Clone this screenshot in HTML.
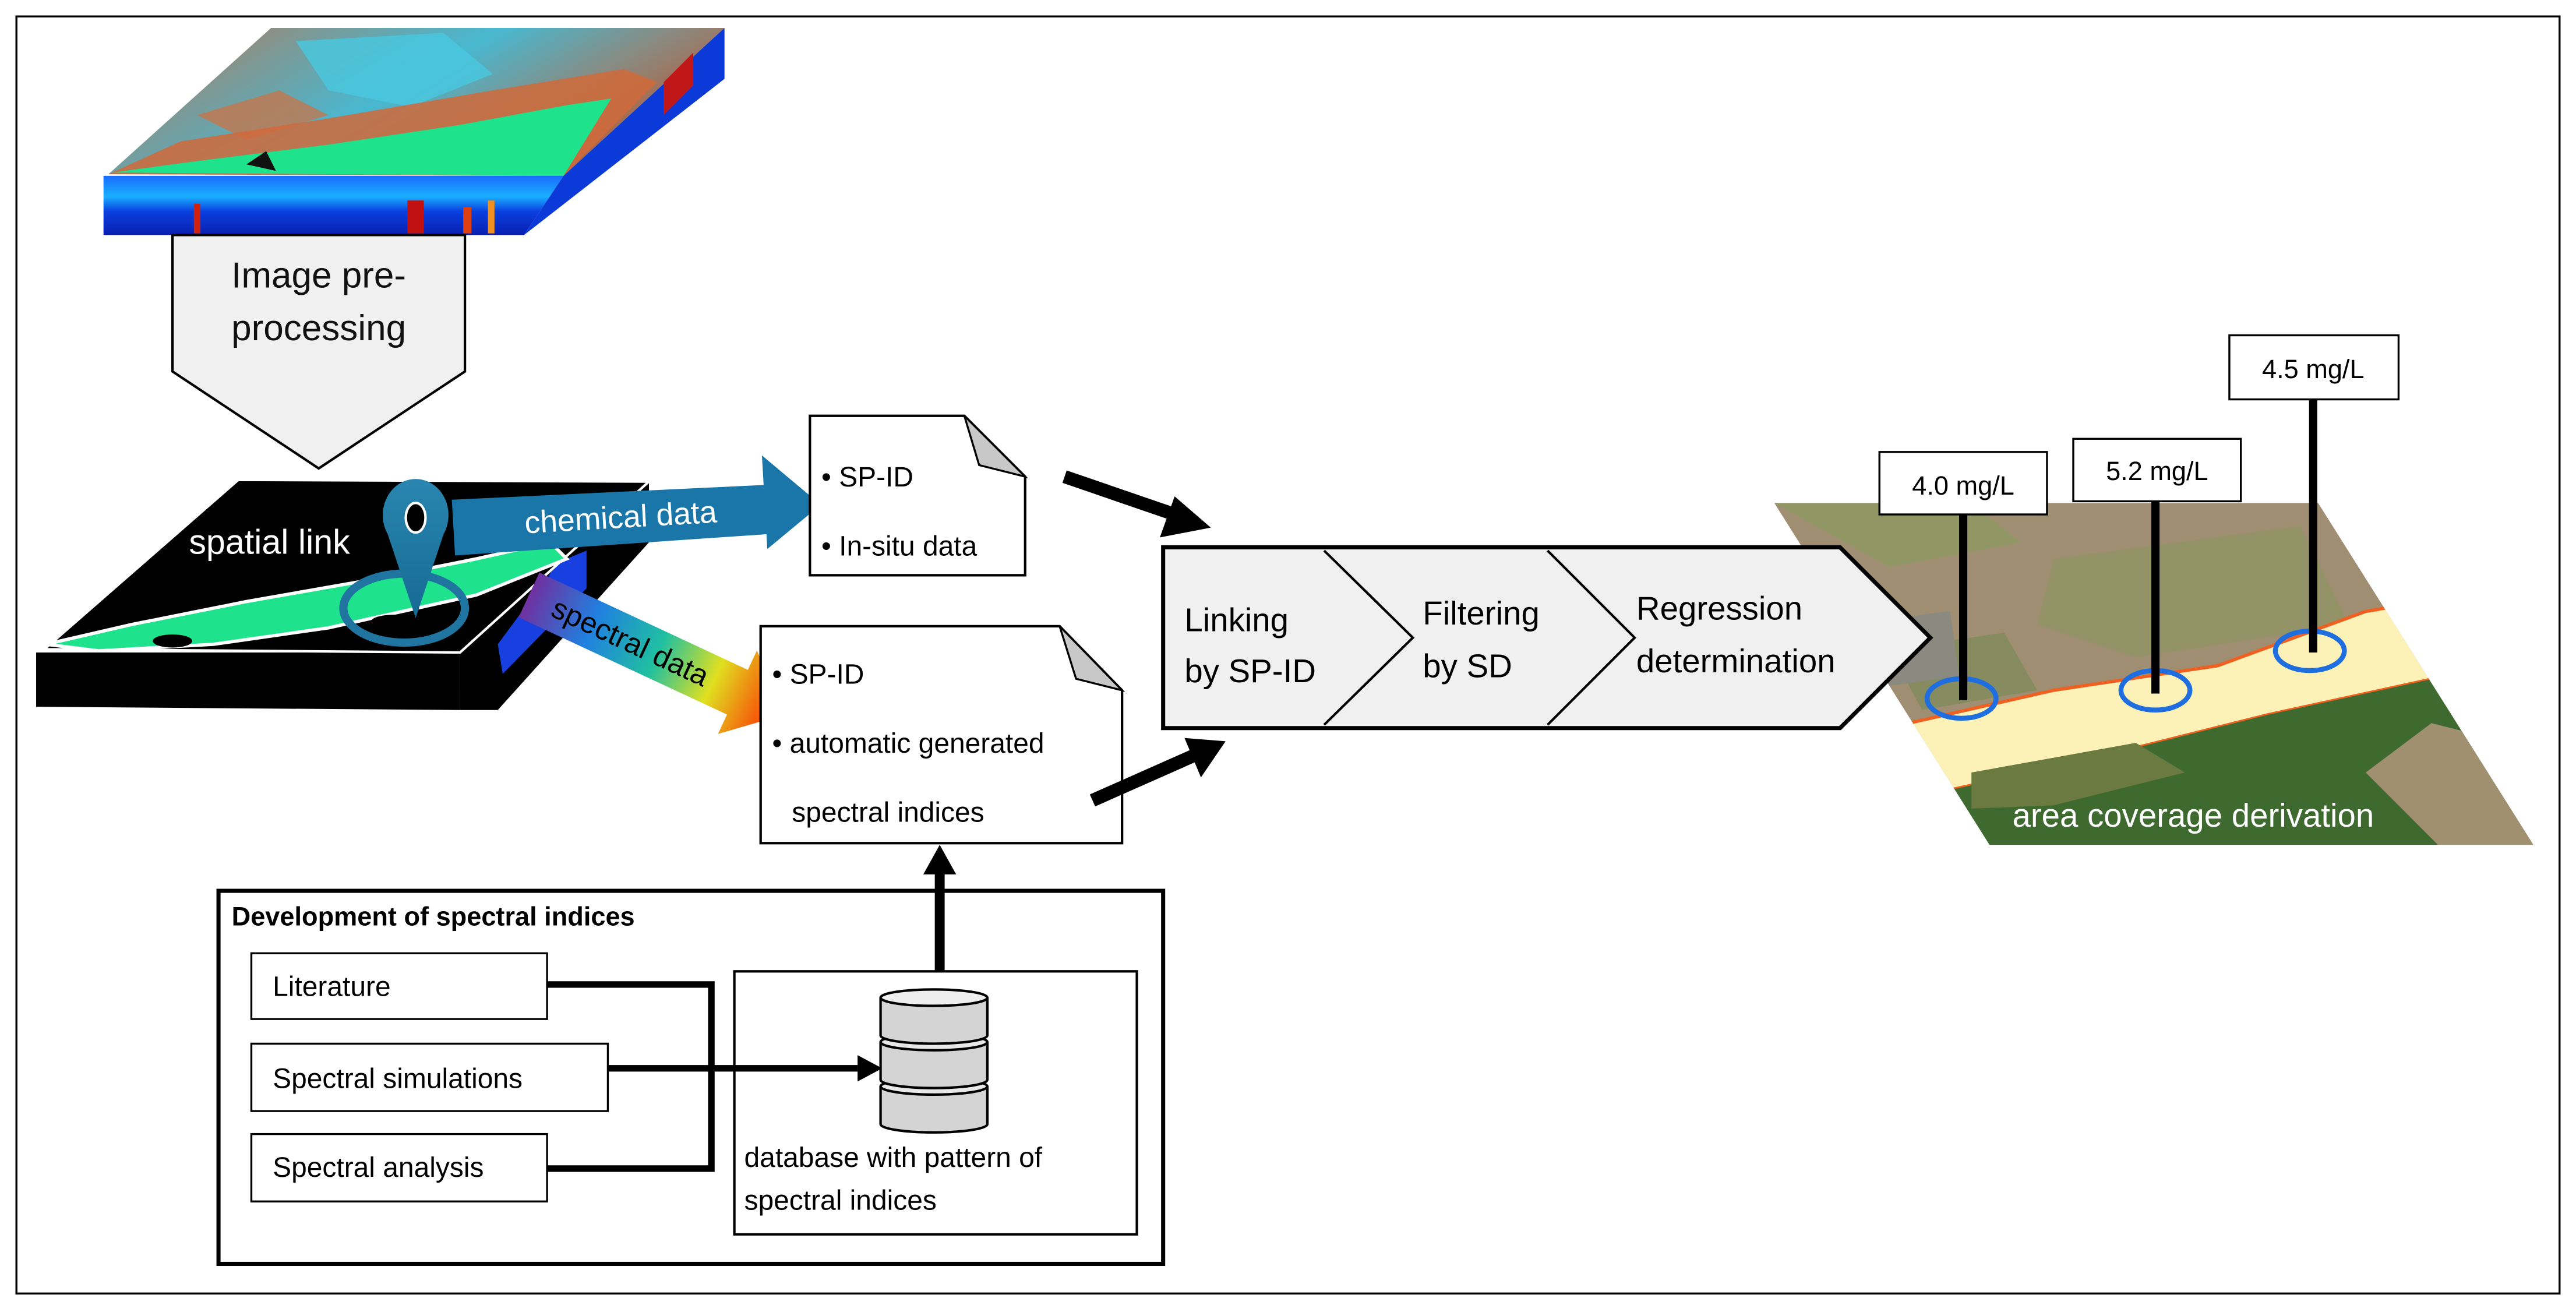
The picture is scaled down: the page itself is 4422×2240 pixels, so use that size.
<!DOCTYPE html>
<html><head><meta charset="utf-8"><style>
html,body{margin:0;padding:0;background:#fff;}
svg{display:block;}
text{font-family:"Liberation Sans",sans-serif;}
</style></head><body>
<svg width="4422" height="2240" viewBox="0 0 1568 794" preserveAspectRatio="none" xmlns="http://www.w3.org/2000/svg">
<defs>
<linearGradient id="front" x1="0" y1="0" x2="0" y2="1">
<stop offset="0" stop-color="#1a6cff"/><stop offset="0.35" stop-color="#19b0ff"/><stop offset="0.6" stop-color="#0a3fe0"/><stop offset="1" stop-color="#0a1fb0"/></linearGradient>
<linearGradient id="topf" x1="0" y1="0" x2="1" y2="0.4">
<stop offset="0" stop-color="#c8704a"/><stop offset="0.3" stop-color="#7a9a98"/><stop offset="0.55" stop-color="#48b8d0"/><stop offset="0.8" stop-color="#8a8a80"/><stop offset="1" stop-color="#b06040"/></linearGradient>
<linearGradient id="spec" x1="0" y1="0" x2="1" y2="0">
<stop offset="0" stop-color="#7030a0"/><stop offset="0.25" stop-color="#2080e0"/><stop offset="0.5" stop-color="#20c0a0"/><stop offset="0.72" stop-color="#e0e020"/><stop offset="1" stop-color="#ff2000"/></linearGradient>
<linearGradient id="pin" x1="0" y1="0" x2="0" y2="1"><stop offset="0" stop-color="#2a86b0"/><stop offset="1" stop-color="#156a92"/></linearGradient>
<clipPath id="photo"><polygon points="1080,306 1411,306 1542,514 1211,514"/></clipPath>
</defs>

<rect x="10" y="10" width="1548" height="777" fill="#fff" stroke="#000" stroke-width="1.2"/>

<!-- top cube -->
<polygon points="66,106 165,17 441,17 343,107" fill="url(#topf)"/>
<polygon points="180,25 270,20 300,45 250,65 200,55" fill="#48c8e0" opacity="0.8"/>
<polygon points="120,70 170,55 200,70 150,85" fill="#d07040" opacity="0.7"/>
<polygon points="66,106 110,86 200,72 300,55 380,42 400,50 343,107" fill="#d06a3a" opacity="0.85"/>
<polygon points="68,105 120,98 200,88 280,76 345,64 372,60 343,107" fill="#1ee38c"/>
<polygon points="150,100 162,92 168,104" fill="#111"/>
<polygon points="63,107 343,107 319,143 63,143" fill="url(#front)"/>
<rect x="118" y="124" width="4" height="18" fill="#d02010"/>
<rect x="248" y="122" width="10" height="20" fill="#c01010"/>
<rect x="282" y="126" width="5" height="16" fill="#e04010"/>
<rect x="297" y="122" width="4" height="20" fill="#f09020"/>
<polygon points="343,107 441,17 441,48 319,143" fill="#0c3ad8"/>
<polygon points="404,50 422,32 422,52 404,70" fill="#c01818"/>

<!-- pentagon -->
<polygon points="105,143 283,143 283,226 194,285 105,226" fill="#f0f0f0" stroke="#000" stroke-width="1.5"/>
<text x="194" y="175" font-size="22" text-anchor="middle" fill="#111">Image pre-</text>
<text x="194" y="207" font-size="22" text-anchor="middle" fill="#111">processing</text>

<!-- slab -->
<polygon points="22,397 280,397 280,432 22,430" fill="#000"/>
<polygon points="280,397 395,293 395,330 303,432 280,432" fill="#000"/>
<polygon points="340,342 357,335 357,358 306,410 303,392" fill="#1840e0"/>
<polygon points="145,292 395,293 280,397 27,395" fill="#000" stroke="#fff" stroke-width="1.5"/>
<polygon points="28,392 80,380 150,366 230,352 290,340 335,330 345,340 290,362 200,382 130,392 60,396" fill="#1ee38c" stroke="#fff" stroke-width="2"/>
<ellipse cx="105" cy="390" rx="12" ry="4" fill="#000"/>
<ellipse cx="240" cy="378" rx="14" ry="4" fill="#000"/>
<text x="115" y="337" font-size="21" fill="#fff">spatial link</text>
<ellipse cx="246" cy="370" rx="37" ry="21" fill="none" stroke="#1f74a0" stroke-width="5"/>
<path d="M253,376 L236,325 A20,22 0 1 1 270,325 Z" fill="url(#pin)"/>
<ellipse cx="253" cy="315" rx="6" ry="9" fill="#000" stroke="#fff" stroke-width="1.5"/>

<!-- chemical arrow -->
<g transform="translate(276,321) rotate(-3.3)">
<polygon points="0,-17 190,-15 190,-33 224,-1 190,24 190,15 0,17" fill="#1a76a8"/>
<text x="102" y="6" font-size="19" fill="#fff" text-anchor="middle">chemical data</text>
</g>
<!-- spectral arrow -->
<g transform="translate(322,362) rotate(25)">
<polygon points="0,-15 140,-15 140,-28 172,0 140,28 140,15 0,15" fill="url(#spec)"/>
<text x="68" y="6" font-size="18" fill="#000" text-anchor="middle">spectral data</text>
</g>

<!-- doc1 -->
<polygon points="493,253 587,253 624,290 624,350 493,350" fill="#fff" stroke="#000" stroke-width="1.5"/>
<polygon points="587,253 624,290 596,283" fill="#c8c8c8" stroke="#000" stroke-width="1.2"/>
<text x="500" y="296" font-size="17" fill="#000">• SP-ID</text>
<text x="500" y="338" font-size="17" fill="#000">• In-situ data</text>
<!-- doc2 -->
<polygon points="463,381 645,381 683,420 683,513 463,513" fill="#fff" stroke="#000" stroke-width="1.5"/>
<polygon points="645,381 683,420 655,413" fill="#c8c8c8" stroke="#000" stroke-width="1.2"/>
<text x="470" y="416" font-size="17" fill="#000">• SP-ID</text>
<text x="470" y="458" font-size="17" fill="#000">• automatic generated</text>
<text x="482" y="500" font-size="17" fill="#000">spectral indices</text>

<!-- black arrows -->
<line x1="648" y1="290" x2="715" y2="313" stroke="#000" stroke-width="8"/>
<polygon points="737,321 706,327 715,302" fill="#000"/>
<line x1="665" y1="487" x2="726" y2="460" stroke="#000" stroke-width="8"/>
<polygon points="746,451 731,473 721,449" fill="#000"/>

<!-- photo -->
<g clip-path="url(#photo)">
<rect x="1070" y="300" width="480" height="220" fill="#a08e72"/>
<polygon points="1080,306 1200,306 1230,330 1150,345" fill="#8a9a60" opacity="0.7"/>
<polygon points="1250,340 1400,320 1430,380 1300,400 1240,380" fill="#8c9460" opacity="0.6"/>
<polygon points="1150,395 1220,385 1240,420 1170,432" fill="#7a8a58" opacity="0.7"/>
<rect x="1140" y="375" width="50" height="40" fill="#8a8a80" transform="rotate(-8 1165 395)"/>
<polygon points="1140,445 1250,420 1350,405 1440,372 1475,366 1495,410 1380,435 1280,460 1190,480 1160,482" fill="#fcf2b8" stroke="#f06020" stroke-width="2"/>
<polygon points="1160,482 1190,480 1280,460 1380,435 1495,410 1560,520 1160,520" fill="#3e6a30"/>
<polygon points="1200,470 1300,452 1330,470 1250,490 1200,492" fill="#6a7a40"/>
<polygon points="1440,470 1480,440 1560,460 1560,520 1490,520" fill="#a09070"/>
</g>
<text x="1335" y="503" font-size="20" fill="#fff" text-anchor="middle">area coverage derivation</text>
<ellipse cx="1194" cy="425" rx="21" ry="12" fill="none" stroke="#1e6ee0" stroke-width="3"/>
<ellipse cx="1312" cy="420" rx="21" ry="12" fill="none" stroke="#1e6ee0" stroke-width="3"/>
<ellipse cx="1406" cy="396" rx="21" ry="12" fill="none" stroke="#1e6ee0" stroke-width="3"/>
<line x1="1195" y1="313" x2="1195" y2="426" stroke="#000" stroke-width="5"/>
<line x1="1312" y1="305" x2="1312" y2="422" stroke="#000" stroke-width="5"/>
<line x1="1408" y1="243" x2="1408" y2="397" stroke="#000" stroke-width="5"/>
<rect x="1144" y="275" width="102" height="38" fill="#fff" stroke="#000" stroke-width="1.2"/>
<text x="1195" y="301" font-size="16" text-anchor="middle">4.0 mg/L</text>
<rect x="1262" y="267" width="102" height="38" fill="#fff" stroke="#000" stroke-width="1.2"/>
<text x="1313" y="292" font-size="16" text-anchor="middle">5.2 mg/L</text>
<rect x="1357" y="204" width="103" height="39" fill="#fff" stroke="#000" stroke-width="1.2"/>
<text x="1408" y="230" font-size="16" text-anchor="middle">4.5 mg/L</text>

<!-- chevrons -->
<polygon points="708,333 1120,333 1175,388 1120,443 708,443" fill="#f0f0f0" stroke="#000" stroke-width="2.5"/>
<polyline points="806,335 860,388 806,441" fill="none" stroke="#000" stroke-width="1.5"/>
<polyline points="942,335 995,388 942,441" fill="none" stroke="#000" stroke-width="1.5"/>
<text x="721" y="384" font-size="20">Linking</text>
<text x="721" y="415" font-size="20">by SP-ID</text>
<text x="866" y="380" font-size="20">Filtering</text>
<text x="866" y="412" font-size="20">by SD</text>
<text x="996" y="377" font-size="20">Regression</text>
<text x="996" y="409" font-size="20">determination</text>

<!-- development box -->
<rect x="133" y="542" width="575" height="227" fill="#fff" stroke="#000" stroke-width="2.5"/>
<text x="141" y="563" font-size="16" font-weight="bold">Development of spectral indices</text>
<rect x="153" y="580" width="180" height="40" fill="#fff" stroke="#000" stroke-width="1.2"/>
<text x="166" y="606" font-size="17">Literature</text>
<rect x="153" y="635" width="217" height="41" fill="#fff" stroke="#000" stroke-width="1.2"/>
<text x="166" y="662" font-size="17">Spectral simulations</text>
<rect x="153" y="690" width="180" height="41" fill="#fff" stroke="#000" stroke-width="1.2"/>
<text x="166" y="716" font-size="17">Spectral analysis</text>
<polyline points="333,599 433,599 433,711 333,711" fill="none" stroke="#000" stroke-width="4"/>
<rect x="447" y="591" width="245" height="160" fill="#fff" stroke="#000" stroke-width="1.5"/>
<line x1="370" y1="650" x2="522" y2="650" stroke="#000" stroke-width="4"/>
<polygon points="537,650 522,642 522,658" fill="#000"/>
<!-- cylinder -->
<g stroke="#000" stroke-width="1.5" fill="#d4d4d4">
<path d="M536,661 L536,684 A32.5,5 0 0 0 601,684 L601,661"/>
<ellipse cx="568.5" cy="661" rx="32.5" ry="5" fill="#e8e8e8"/>
<path d="M536,634 L536,657 A32.5,5 0 0 0 601,657 L601,634"/>
<ellipse cx="568.5" cy="634" rx="32.5" ry="5" fill="#e8e8e8"/>
<path d="M536,607 L536,630 A32.5,5 0 0 0 601,630 L601,607"/>
<ellipse cx="568.5" cy="607" rx="32.5" ry="5" fill="#eeeeee"/>
</g>
<text x="453" y="710" font-size="17">database with pattern of</text>
<text x="453" y="736" font-size="17">spectral indices</text>
<line x1="572" y1="591" x2="572" y2="530" stroke="#000" stroke-width="6"/>
<polygon points="572,514 562,532 582,532" fill="#000"/>
</svg>
</body></html>
